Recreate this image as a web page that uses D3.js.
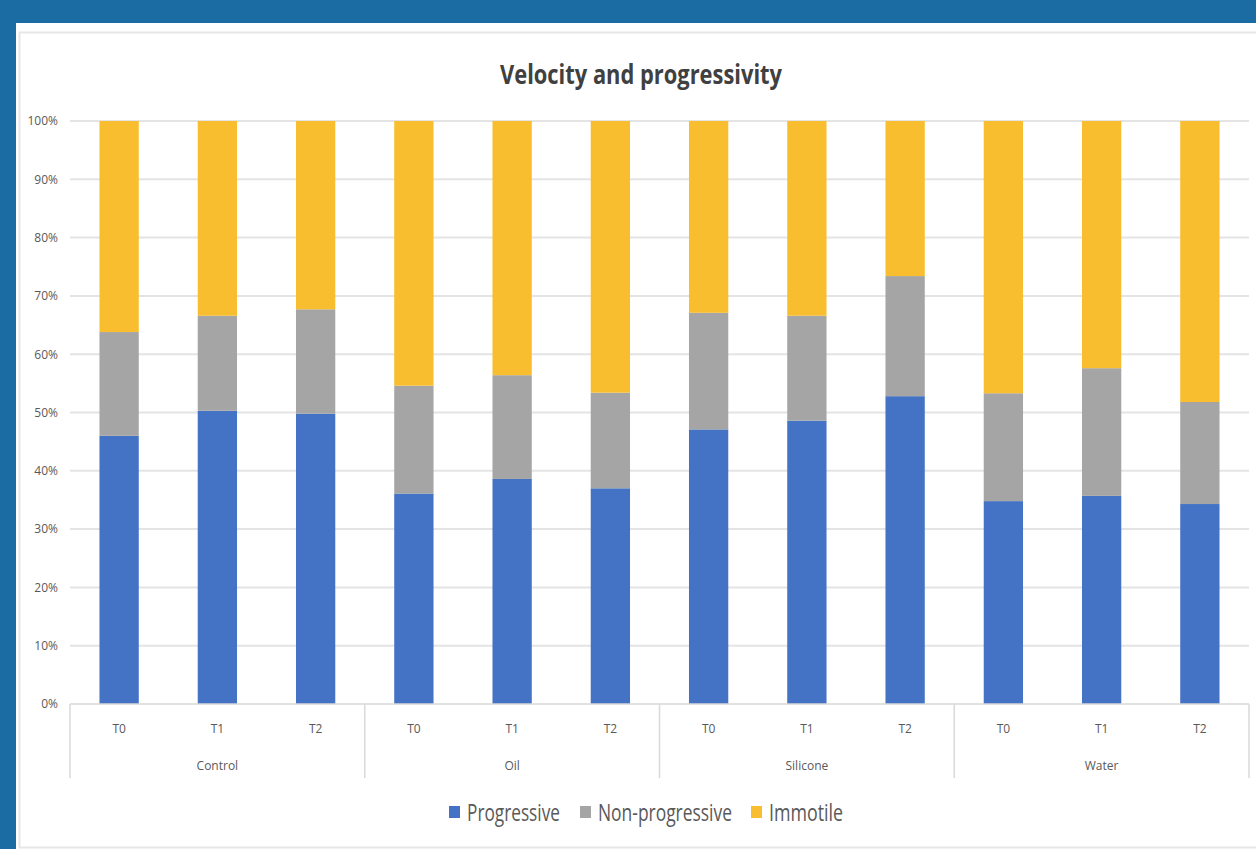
<!DOCTYPE html>
<html>
<head>
<meta charset="utf-8">
<script src="https://cdn.jsdelivr.net/npm/d3@7"></script>
<style>
  html, body { margin: 0; padding: 0; background: #1b6ca3; overflow: hidden; }
  #chart { position: absolute; left: 0; top: 0; }
</style>
</head>
<body>
<div id="chart"></div>
<script>
'use strict';

// data (percent)
const groups = ["Control", "Oil", "Silicone", "Water"];
const times = ["T0", "T1", "T2"];
const progressive =    [46.0, 50.3, 49.8, 36.1, 38.6, 37.0, 47.1, 48.6, 52.8, 34.8, 35.7, 34.3];
const nonProgressive = [17.8, 16.3, 17.9, 18.5, 17.8, 16.4, 20.0, 18.0, 20.6, 18.5, 21.9, 17.5];
const immotile = progressive.map((p, i) => 100 - p - nonProgressive[i]);
const seriesNames = ["Progressive", "Non-progressive", "Immotile"];
const yTicks = [0, 10, 20, 30, 40, 50, 60, 70, 80, 90, 100];

const colors = ["#4472c4", "#a5a5a5", "#f8be30"];
const font = "'Liberation Sans Narrow', 'Open Sans', 'Liberation Sans', sans-serif";

const W = 1256, H = 849;
const margin = {top: 121, left: 70, right: 7, bottom: 145};
const plotH = 704 - margin.top;

let svg = d3.select('#chart').append('svg')
    .attr('width', W)
    .attr('height', H);

// white panel and inner border
svg.append('rect')
    .attr('x', 16).attr('y', 23)
    .attr('width', W).attr('height', H)
    .attr('fill', '#fff');
svg.append('rect')
    .attr('x', 19.5).attr('y', 32.5)
    .attr('width', W).attr('height', 815)
    .attr('fill', 'none')
    .attr('stroke', '#e6e6e6')
    .attr('stroke-width', 2);

// rows: one per group/time
let rows = [];
groups.forEach((g, gi) => times.forEach((t, ti) => {
    let i = gi * times.length + ti;
    rows.push({key: g + '-' + t, group: g, time: t,
        Progressive: progressive[i], 'Non-progressive': nonProgressive[i], Immotile: immotile[i]});
}));

let x = d3.scaleBand()
    .domain(rows.map(d => d.key))
    .range([margin.left, W - margin.right])
    .paddingInner(0.6)
    .paddingOuter(0.3);

let y = d3.scaleLinear()
    .domain([0, 100])
    .range([margin.top + plotH, margin.top]);

let g = svg.append('g');

// gridlines
g.append('g')
    .selectAll('line')
    .data(yTicks.filter(t => t > 0))
    .enter()
    .append('line')
    .attr('x1', margin.left).attr('x2', W - margin.right)
    .attr('y1', d => y(d)).attr('y2', d => y(d))
    .attr('stroke', '#e4e4e4')
    .attr('stroke-width', 2);

// y axis labels
let yAxis = d3.axisLeft(y)
    .tickValues(yTicks)
    .tickFormat(d => d + '%')
    .tickSize(0)
    .tickPadding(12);
let ya = g.append('g')
    .attr('transform', 'translate(' + margin.left + ',0)')
    .call(yAxis);
ya.select('.domain').remove();
ya.selectAll('text')
    .attr('fill', '#595959')
    .style('font-family', font)
    .style('font-size', '12px');

// stacked bars
let stack = d3.stack().keys(seriesNames);
let layers = stack(rows);

g.append('g')
    .selectAll('g')
    .data(layers)
    .enter()
    .append('g')
    .attr('fill', (d, i) => colors[i])
    .selectAll('rect')
    .data(d => d)
    .enter()
    .append('rect')
    .attr('x', d => x(d.data.key))
    .attr('width', x.bandwidth())
    .attr('y', d => y(d[1]))
    .attr('height', d => y(d[0]) - y(d[1]));

// x axis baseline
let base = y(0);
g.append('line')
    .attr('x1', margin.left).attr('x2', W - margin.right)
    .attr('y1', base).attr('y2', base)
    .attr('stroke', '#d9d9d9')
    .attr('stroke-width', 1.5);

// group separators
let step = x.step();
let groupEdges = d3.range(groups.length + 1).map(i => margin.left + i * times.length * step);
g.append('g')
    .selectAll('line')
    .data(groupEdges)
    .enter()
    .append('line')
    .attr('x1', d => d).attr('x2', d => d)
    .attr('y1', base).attr('y2', base + 74)
    .attr('stroke', '#d9d9d9')
    .attr('stroke-width', 1.5);

// time labels
g.append('g')
    .selectAll('text')
    .data(rows)
    .enter()
    .append('text')
    .attr('x', d => x(d.key) + x.bandwidth() / 2)
    .attr('y', base + 29)
    .attr('text-anchor', 'middle')
    .attr('fill', '#595959')
    .style('font-family', font)
    .style('font-size', '12px')
    .text(d => d.time);

// group labels
g.append('g')
    .selectAll('text')
    .data(groups)
    .enter()
    .append('text')
    .attr('x', (d, i) => (groupEdges[i] + groupEdges[i + 1]) / 2)
    .attr('y', base + 66)
    .attr('text-anchor', 'middle')
    .attr('fill', '#595959')
    .style('font-family', font)
    .style('font-size', '12px')
    .text(d => d);

// title
svg.append('text')
    .attr('x', 641)
    .attr('y', 84)
    .attr('text-anchor', 'middle')
    .attr('fill', '#404040')
    .attr('textLength', 282)
    .attr('lengthAdjust', 'spacingAndGlyphs')
    .style('font-family', font)
    .style('font-size', '26px')
    .style('font-weight', 'bold')
    .text('Velocity and progressivity');

// legend
let legendX = [449, 580, 751];
let legendW = [93, 134, 74];
let legend = svg.append('g')
    .selectAll('g')
    .data(seriesNames)
    .enter()
    .append('g')
    .attr('transform', (d, i) => 'translate(' + legendX[i] + ',806)');
legend.append('rect')
    .attr('width', 11).attr('height', 12)
    .attr('fill', (d, i) => colors[i]);
legend.append('text')
    .attr('x', 18)
    .attr('y', 15)
    .attr('fill', '#595959')
    .attr('textLength', (d, i) => legendW[i])
    .attr('lengthAdjust', 'spacingAndGlyphs')
    .style('font-family', font)
    .style('font-size', '23px')
    .text(d => d);
</script>
</body>
</html>
